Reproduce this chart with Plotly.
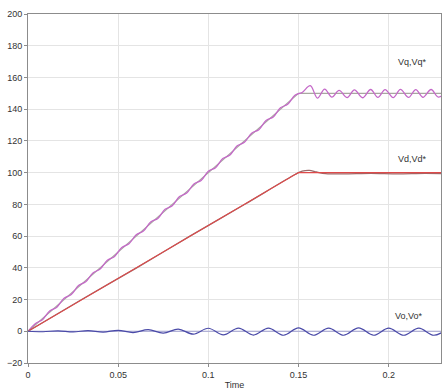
import plotly.graph_objects as go

# Reference (commanded) voltages: ramp to setpoint, then hold
ref_t = [0.0, 0.15, 0.232]
vq_ref = [0.0, 150.0, 150.0]
vd_ref = [0.0, 100.0, 100.0]
vo_ref = [0.0, 0.0, 0.0]

# Measured q-axis voltage (peaks/troughs of the ripple)
vq_t = [0.000, 0.004, 0.008, 0.012, 0.016, 0.020, 0.024, 0.028, 0.032, 0.036,
        0.040, 0.044, 0.048, 0.052, 0.056, 0.060, 0.064, 0.068, 0.072, 0.076,
        0.080, 0.084, 0.088, 0.092, 0.096, 0.100, 0.104, 0.108, 0.112, 0.116,
        0.120, 0.124, 0.128, 0.132, 0.136, 0.140, 0.144, 0.148, 0.152, 0.1565,
        0.1605, 0.1645, 0.1685, 0.1725, 0.177, 0.181, 0.1855, 0.190, 0.194,
        0.198, 0.2025, 0.2065, 0.211, 0.215, 0.219, 0.2235, 0.2275, 0.232]
vq_meas = [0.0, 4.8, 7.3, 12.8, 15.2, 20.8, 23.2, 28.8, 31.2, 36.8,
           39.2, 44.8, 47.2, 52.8, 55.2, 60.8, 63.2, 68.9, 71.1, 76.9,
           79.1, 84.9, 87.1, 92.9, 95.1, 100.9, 103.1, 108.9, 111.1, 116.9,
           119.1, 124.9, 127.1, 132.9, 135.1, 140.9, 143.1, 148.8, 150.5, 154.8,
           147.0, 152.6, 147.6, 151.8, 147.3, 152.2, 147.2, 152.4, 147.4,
           152.3, 147.3, 152.5, 147.4, 152.3, 147.5, 152.4, 147.6, 151.0]

# Measured d-axis voltage
vd_t = [0.0, 0.03, 0.06, 0.09, 0.12, 0.148, 0.152, 0.156, 0.160, 0.165,
        0.175, 0.19, 0.205, 0.22, 0.232]
vd_meas = [0.0, 20.2, 39.8, 60.1, 79.9, 98.8, 100.9, 101.4, 100.4, 99.4,
           99.2, 99.5, 99.2, 99.5, 99.3]

# Measured zero-sequence voltage
vo_t = [0.0, 0.00833, 0.01667, 0.025, 0.0333, 0.04167, 0.05, 0.0583, 0.0667,
        0.075, 0.0833, 0.0917, 0.1, 0.1083, 0.1167, 0.125, 0.1333, 0.1417,
        0.15, 0.1583, 0.1667, 0.175, 0.1833, 0.1917, 0.2, 0.2083, 0.2167,
        0.225, 0.2333]
vo_meas = [0.0, -0.3, 0.3, -0.4, 0.4, -0.5, 0.6, -0.8, 1.0,
           -1.2, 1.4, -1.8, 1.9, -2.3, 2.0, -2.4, 2.0, -2.5,
           2.1, -2.5, 2.0, -2.5, 2.1, -2.5, 2.0, -2.5, 2.0,
           -2.5, 2.0]

x_ticks = [0, 0.05, 0.1, 0.15, 0.2]
x_tick_text = ["0", "0.05", "0.1", "0.15", "0.2"]
y_ticks = [-20, 0, 20, 40, 60, 80, 100, 120, 140, 160, 180, 200]

labels = ["Vq,Vq*", "Vd,Vd*", "Vo,Vo*"]
label_x = [0.213, 0.213, 0.211]
label_y = [169.5, 108.5, 9.5]

fig = go.Figure()

fig.add_trace(go.Scatter(x=ref_t, y=vq_ref, mode="lines",
                         line=dict(color="#a8a8a0", width=1.2)))
fig.add_trace(go.Scatter(x=vq_t, y=vq_meas, mode="lines",
                         line=dict(color="#c468c8", width=1.3, shape="spline", smoothing=1.0)))
fig.add_trace(go.Scatter(x=vd_t, y=vd_meas, mode="lines",
                         line=dict(color="#9a6a6a", width=1.3, shape="spline", smoothing=0.8)))
fig.add_trace(go.Scatter(x=ref_t, y=vd_ref, mode="lines",
                         line=dict(color="#de4a4a", width=1.1)))
fig.add_trace(go.Scatter(x=ref_t, y=vo_ref, mode="lines",
                         line=dict(color="#a0a0d0", width=1.2)))
fig.add_trace(go.Scatter(x=vo_t, y=vo_meas, mode="lines",
                         line=dict(color="#4a4aa8", width=1.2, shape="spline", smoothing=1.0)))

for txt, lx, ly in zip(labels, label_x, label_y):
    fig.add_annotation(x=lx, y=ly, text=txt, showarrow=False,
                       font=dict(size=9, color="#333333"))

axis_common = dict(showline=True, linecolor="#8c8c8c", linewidth=1, mirror=True,
                   showgrid=True, gridcolor="#e4e4e4", gridwidth=1,
                   zeroline=False, ticks="outside", ticklen=3, tickcolor="#8c8c8c",
                   tickfont=dict(size=9, color="#333333"))

fig.update_xaxes(range=[0, 0.229], tickvals=x_ticks, ticktext=x_tick_text,
                 title=dict(text="Time", font=dict(size=9, color="#333333"), standoff=2),
                 **axis_common)
fig.update_yaxes(range=[-20, 200], tickvals=y_ticks, **axis_common)

fig.update_layout(width=445, height=392, showlegend=False,
                  margin=dict(l=28, r=4, t=14, b=29),
                  paper_bgcolor="white", plot_bgcolor="white",
                  font=dict(family="Liberation Sans, Arial, sans-serif"))

fig.write_html("out.html")
